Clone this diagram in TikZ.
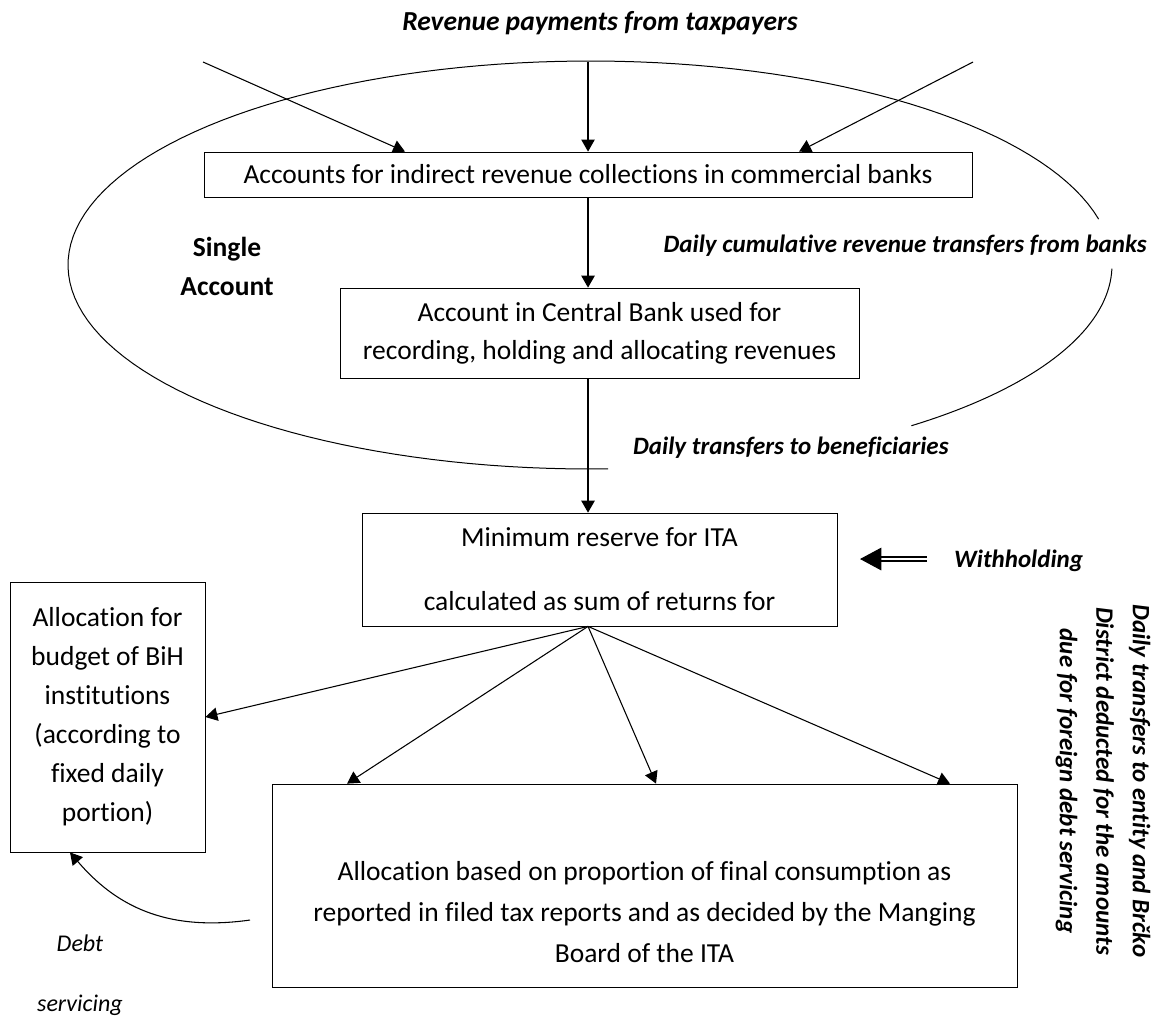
\documentclass[tikz,border=0pt]{standalone}
\usepackage{fontspec}
\setmainfont{Carlito}[Ligatures=NoCommon]
\usepackage{tikz}
\usetikzlibrary{arrows.meta,calc}
\newcommand{\bodysize}{\fontsize{27.5}{39}\selectfont}
\newcommand{\notesize}{\fontsize{25}{39}\selectfont}
\newcommand{\titlesize}{\fontsize{27.5}{33}\selectfont}

\begin{document}
\begin{tikzpicture}[
			x=1pt, y=-1pt,
			scale=0.75,
			transform shape,
			box/.style={rectangle, draw, line width=0.75pt, inner sep=0pt, align=center, font=\bodysize},
			note/.style={inner sep=0pt, align=center, font=\notesize\bfseries\itshape},
			arrow/.style={-{Triangle[length=9pt, width=10pt]}, line width=0.8pt},
			mainarrow/.style={arrow, line width=1.2pt},
			dblarrow/.style={double, double distance=2.2pt, line width=0.8pt, -{Triangle[length=16pt, width=17pt]}},
			ring/.style={line width=0.75pt}
			]
			
			\useasboundingbox (0,0) rectangle (1156,1017);
			
			% Title
			\node[note, font=\titlesize\bfseries\itshape, anchor=base] (title) at (600,30) {Revenue payments from taxpayers};
			
			% Accounts
			\node[box, minimum width=768pt, minimum height=45pt] (banks) at (588,174.5) {Accounts for indirect revenue collections in commercial banks};
			\node[box, minimum width=519pt, minimum height=90pt, font=\fontsize{27.5}{38}\selectfont] (central) at (599.5,333) {Account in Central Bank used for\\recording, holding and allocating revenues};
			\node[box, minimum width=475pt, minimum height=113pt] (reserve) at (599.5,569.5) {Minimum reserve for ITA\\[25pt]calculated as sum of returns for};
			
			% Allocations
			\node[box, minimum width=195pt, minimum height=270pt] (bih) at (107.5,717) {Allocation for\\budget of BiH\\institutions\\(according to\\fixed daily\\portion)};
			\node[box, minimum width=745pt, minimum height=203pt, font=\fontsize{27.5}{41}\selectfont] (alloc) at (644.5,885.5) {\mbox{}\\[31pt]Allocation based on proportion of final consumption as\\reported in filed tax reports and as decided by the Manging\\Board of the ITA};
			
			% Labels
			\node[note, font=\bodysize\bfseries] (single) at (227,266) {Single\\Account};
			\node[note, anchor=east] (cumul) at (1147,246) {Daily cumulative revenue transfers from banks};
			\node[note, anchor=west] (benef) at (633,448) {Daily transfers to beneficiaries};
			\node[note, anchor=west] (withhold) at (954,561) {Withholding};
			\node[note, rotate=-90, font=\fontsize{25}{36.5}\selectfont\bfseries\itshape] (entity) at (1103,781) {Daily transfers to entity and Brčko\\District deducted for the amounts\\due for foreign debt servicing};
			\node[note, font=\fontsize{24}{39}\selectfont\itshape] (debt) at (80,975) {Debt\\[21pt]servicing};
			
			% Single account ring (broken for the label)
			\draw[ring] plot[domain=88:347, samples=120] ({590+522*cos(\x)}, {265+204*sin(\x)});
			\draw[ring] plot[domain=1:52, samples=40] ({590+522*cos(\x)}, {265+204*sin(\x)});
			
			% Payments
			\coordinate (payL) at (203,62);
			\coordinate (payC) at (588,62);
			\coordinate (payR) at (973,62);
			\draw[arrow] (payL) -- ($(banks.north)+(-183,0)$);
			\draw[arrow] (payC) -- (banks.north);
			\draw[arrow] (payR) -- ($(banks.north)+(211,0)$);
			
			% Transfers
			\draw[mainarrow] (banks.south) -- (banks.south |- central.north);
			\draw[mainarrow] (banks.south |- central.south) -- (banks.south |- reserve.north);
			
			% Withholding
			\coordinate (wtail) at (927,559);
			\coordinate (wtip) at (860,559);
			\draw[dblarrow] (wtail) -- (wtip);
			
			% Distribution
			\coordinate (fan) at ($(reserve.south)+(-11.5,0)$);
			\draw[arrow] (fan) -- (bih.east);
			\draw[arrow] (fan) -- ($(alloc.north)+(-297.5,0)$);
			\draw[arrow] (fan) -- ($(alloc.north)+(11.5,0)$);
			\draw[arrow] (fan) -- ($(alloc.north)+(305.5,0)$);
			
			% Debt servicing
			\coordinate (dstart) at (250,920);
			\draw[arrow] (dstart) .. controls (165,932) and (115,905) .. ($(bih.south)+(-37.5,0)$);
			
		\end{tikzpicture}
\end{document}
